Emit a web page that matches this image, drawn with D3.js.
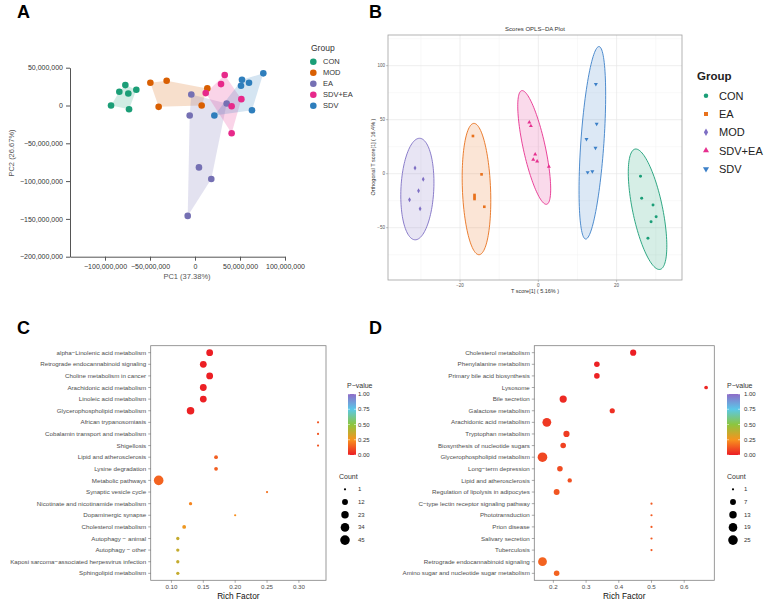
<!DOCTYPE html>
<html>
<head>
<meta charset="utf-8">
<script src="https://cdn.jsdelivr.net/npm/d3@7"></script>
<style>
  body { margin: 0; background: #fff; }
  text { font-family: "Liberation Sans", Arial, sans-serif; }
</style>
</head>
<body>
<svg id="fig" width="768" height="600"></svg>
<script>
// ---------- data: panel A (PCA) ----------
const groupsA = ['CON', 'MOD', 'EA', 'SDV+EA', 'SDV'];
const colorsA = ['#1b9e77', '#d95f02', '#7570b3', '#e7298a', '#2e7ebc'];
const pcaCon   = [[-93.3e6, 0], [-84.1e6, 18.1e6], [-77.4e6, 27.0e6], [-74.1e6, 15.9e6], [-65.2e6, 20.8e6], [-73.3e6, -4.9e6]];
const pcaMod   = [[-49.6e6, 30.1e6], [-31.5e6, 32.7e6], [13.7e6, 22.6e6], [-40.4e6, -1.8e6], [7.4e6, 0]];
const pcaEa    = [[-4.1e6, 14.6e6], [-5.9e6, -13.3e6], [4.4e6, -81.9e6], [18.1e6, -97.3e6], [-8.1e6, -146e6], [35.2e6, 2.7e6]];
const pcaSdvEa = [[33.0e6, 40.3e6], [28.9e6, 28.3e6], [11.9e6, 16.4e6], [40.7e6, -0.9e6], [51.5e6, 8.4e6], [40.7e6, -36.7e6]];
const pcaSdv   = [[75.9e6, 42.5e6], [52.2e6, 34.1e6], [60.0e6, 30.1e6], [51.1e6, 26.1e6], [21.5e6, -13.3e6], [63.3e6, -6.2e6]];
const pcaXTicks = [-100e6, -50e6, 0, 50e6, 100e6];
const pcaYTicks = [-200e6, -150e6, -100e6, -50e6, 0, 50e6];

// ---------- data: panel B (OPLS-DA) ----------
const groupsB = ['CON', 'EA', 'MOD', 'SDV+EA', 'SDV'];
const colorsB = ['#1b9e77', '#e8711c', '#7e6fc4', '#e6308f', '#3c80c8'];
const oplsCon   = [[26.1, -2.4], [26.4, -22.8], [29.3, -29], [30.1, -39.8], [28.8, -44.4], [28.0, -59.8]];
const oplsEa    = [[-16.7, 34.9], [-14.5, -0.6], [-16.3, -19.7], [-16.3, -21.6], [-16.3, -23.4], [-13.8, -30.6]];
const oplsMod   = [[-31.5, 5.3], [-29.4, -5.2], [-30.6, -15.7], [-32.9, -24.1], [-30.2, -32.4]];
const oplsSdvEa = [[-2.3, 47.6], [-1.9, 44.2], [-0.8, 18], [-1.3, 13], [-0.3, 11.5], [2.7, 6.5]];
const oplsSdv   = [[14.7, 82.8], [14.9, 46], [12.3, 31.9], [14.6, 23.8], [12.6, 1.3], [13.8, 2.2]];
// confidence ellipses: centre, semi-major and semi-minor vectors (data units)
const ellCenter = [[27.9, -32.9], [-15.8, -14.2], [-30.9, -14.2], [-1.05, 24.3], [13.8, 28.6]];
const ellMajor  = [[-3.19, 55.7], [-0.64, 60.8], [0.55, 47.0], [-3.19, 52.6], [1.71, 89.1]];
const ellMinor  = [[3.75, 2.8], [3.6, 0], [4.2, 0], [2.74, 2.2], [2.94, -0.74]];
const oplsXTicks = [-20, 0, 20];
const oplsXMinor = [-30, -10, 10, 30];
const oplsYTicks = [-50, 0, 50, 100];
const oplsYMinor = [-75, -25, 25, 75, 125];

// ---------- data: panel C (enrichment) ----------
const termsC = ['alpha\u2212Linolenic acid metabolism', 'Retrograde endocannabinoid signaling', 'Choline metabolism in cancer',
  'Arachidonic acid metabolism', 'Linoleic acid metabolism', 'Glycerophospholipid metabolism', 'African trypanosomiasis',
  'Cobalamin transport and metabolism', 'Shigellosis', 'Lipid and atherosclerosis', 'Lysine degradation', 'Metabolic pathways',
  'Synaptic vesicle cycle', 'Nicotinate and nicotinamide metabolism', 'Dopaminergic synapse', 'Cholesterol metabolism',
  'Autophagy \u2212 animal', 'Autophagy \u2212 other', 'Kaposi sarcoma\u2212associated herpesvirus infection', 'Sphingolipid metabolism'];
const richC  = [0.16, 0.15, 0.16, 0.15, 0.15, 0.13, 0.33, 0.33, 0.33, 0.17, 0.17, 0.08, 0.25, 0.13, 0.20, 0.12, 0.11, 0.11, 0.11, 0.11];
const countC = [18, 18, 18, 18, 18, 24, 1, 1, 1, 3, 3, 45, 1, 2, 1, 3, 2, 2, 2, 2];
const pvalC  = [0.005, 0.006, 0.007, 0.008, 0.009, 0.01, 0.12, 0.12, 0.12, 0.14, 0.14, 0.15, 0.18, 0.22, 0.24, 0.27, 0.37, 0.37, 0.37, 0.37];
const countBreaksC = [1, 12, 23, 34, 45];
const richTicksC = [0.10, 0.15, 0.20, 0.25, 0.30];

// ---------- data: panel D (enrichment) ----------
const termsD = ['Cholesterol metabolism', 'Phenylalanine metabolism', 'Primary bile acid biosynthesis', 'Lysosome', 'Bile secretion',
  'Galactose metabolism', 'Arachidonic acid metabolism', 'Tryptophan metabolism', 'Biosynthesis of nucleotide sugars',
  'Glycerophospholipid metabolism', 'Long\u2212term depression', 'Lipid and atherosclerosis', 'Regulation of lipolysis in adipocytes',
  'C\u2212type lectin receptor signaling pathway', 'Phototransduction', 'Prion disease', 'Salivary secretion', 'Tuberculosis',
  'Retrograde endocannabinoid signaling', 'Amino sugar and nucleotide sugar metabolism'];
const richD  = [0.444, 0.333, 0.333, 0.667, 0.23, 0.38, 0.18, 0.24, 0.23, 0.1667, 0.22, 0.25, 0.21, 0.5, 0.5, 0.5, 0.5, 0.5, 0.1667, 0.21];
const countD = [8, 6, 6, 2, 12, 5, 20, 8, 6, 25, 6, 3, 7, 1, 1, 1, 1, 1, 20, 6];
const pvalD  = [0.005, 0.01, 0.012, 0.02, 0.03, 0.04, 0.06, 0.065, 0.08, 0.09, 0.1, 0.11, 0.12, 0.13, 0.13, 0.13, 0.13, 0.13, 0.15, 0.15];
const countBreaksD = [1, 7, 13, 19, 25];
const richTicksD = [0.2, 0.3, 0.4, 0.5, 0.6];

const pBreaks = [0, 0.25, 0.5, 0.75, 1];
const pColors = ['#ec1c24', '#f7931e', '#8cc63f', '#5ac8e8', '#8e6cc8'];

const svg = d3.select('#fig');
const FONT = '"Liberation Sans", Arial, sans-serif';

function panelLetter(txt, x, y) {
    svg.append('text').attr('x', x).attr('y', y).attr('font-size', 18).attr('font-weight', 'bold').text(txt);
}

// =================== Panel A ===================
panelLetter('A', 17, 18);
const xA = d3.scaleLinear().domain([-138.9e6, 100e6]).range([70, 285]);
const yA = d3.scaleLinear().domain([-200e6, 50e6]).range([256.7, 67.7]);
const fmtA = d3.format(',');

const axA = svg.append('g').attr('transform', 'translate(0,256.7)')
    .call(d3.axisBottom(xA).tickValues(pcaXTicks).tickFormat(fmtA).tickSize(4).tickSizeOuter(0));
const ayA = svg.append('g').attr('transform', 'translate(70,0)')
    .call(d3.axisLeft(yA).tickValues(pcaYTicks).tickFormat(fmtA).tickSize(4).tickSizeOuter(0));
[axA, ayA].forEach(a => {
    a.attr('font-family', FONT).attr('font-size', 7);
    a.selectAll('path, line').attr('stroke', '#555');
    a.selectAll('text').attr('fill', '#333');
});

const pcaSets = [pcaCon, pcaMod, pcaEa, pcaSdvEa, pcaSdv];
// convex hulls
pcaSets.forEach((pts, i) => {
    const hull = d3.polygonHull(pts.map(p => [xA(p[0]), yA(p[1])]));
    svg.append('path')
        .attr('d', 'M' + hull.join('L') + 'Z')
        .attr('fill', colorsA[i])
        .attr('fill-opacity', 0.2);
});
pcaSets.forEach((pts, i) => {
    svg.append('g').selectAll('circle').data(pts).join('circle')
        .attr('cx', d => xA(d[0]))
        .attr('cy', d => yA(d[1]))
        .attr('r', 3.3)
        .attr('fill', colorsA[i]);
});

svg.append('text').attr('x', 187).attr('y', 279).attr('text-anchor', 'middle')
    .attr('font-size', 7.5).attr('fill', '#555').text('PC1 (37.38%)');
svg.append('text').attr('transform', 'translate(14,153) rotate(-90)').attr('text-anchor', 'middle')
    .attr('font-size', 7.5).attr('fill', '#555').text('PC2 (26.67%)');

// legend A
svg.append('text').attr('x', 311).attr('y', 51).attr('font-size', 8.5).attr('fill', '#333').text('Group');
groupsA.forEach((g, i) => {
    const yy = 61.7 + 11 * i;
    svg.append('circle').attr('cx', 313.3).attr('cy', yy).attr('r', 3.3).attr('fill', colorsA[i]);
    svg.append('text').attr('x', 323).attr('y', yy + 2.7).attr('font-size', 7.5).attr('fill', '#333').text(g);
});

// =================== Panel B ===================
panelLetter('B', 369, 18);
const xB = d3.scaleLinear().domain([-38.4, 36.7]).range([388, 682]);
const yB = d3.scaleLinear().domain([-98.4, 128.4]).range([280, 35]);
const gB = svg.append('g');

// grid
gB.selectAll('.vmin').data(oplsXMinor).join('line')
    .attr('x1', d => xB(d)).attr('x2', d => xB(d)).attr('y1', 35).attr('y2', 280)
    .attr('stroke', '#f2f2f2').attr('stroke-width', 0.5);
gB.selectAll('.hmin').data(oplsYMinor).join('line')
    .attr('y1', d => yB(d)).attr('y2', d => yB(d)).attr('x1', 388).attr('x2', 682)
    .attr('stroke', '#f2f2f2').attr('stroke-width', 0.5);
gB.selectAll('.vmaj').data(oplsXTicks).join('line')
    .attr('x1', d => xB(d)).attr('x2', d => xB(d)).attr('y1', 35).attr('y2', 280)
    .attr('stroke', '#e6e6e6').attr('stroke-width', 0.7);
gB.selectAll('.hmaj').data(oplsYTicks).join('line')
    .attr('y1', d => yB(d)).attr('y2', d => yB(d)).attr('x1', 388).attr('x2', 682)
    .attr('stroke', '#e6e6e6').attr('stroke-width', 0.7);

// ellipses
const tSteps = d3.range(0, 2 * Math.PI + 0.001, Math.PI / 60);
groupsB.forEach((g, i) => {
    const c = ellCenter[i], a = ellMajor[i], b = ellMinor[i];
    const pts = tSteps.map(t => [
        xB(c[0] + Math.cos(t) * a[0] + Math.sin(t) * b[0]),
        yB(c[1] + Math.cos(t) * a[1] + Math.sin(t) * b[1])
    ]);
    gB.append('path')
        .attr('d', d3.line().curve(d3.curveLinearClosed)(pts))
        .attr('fill', colorsB[i]).attr('fill-opacity', 0.18)
        .attr('stroke', colorsB[i]).attr('stroke-width', 0.9);
});

const symTypes = [d3.symbolCircle, d3.symbolSquare, d3.symbolDiamond, d3.symbolTriangle, d3.symbolTriangle];
const symRot = [0, 0, 0, 0, 180];
const oplsSets = [oplsCon, oplsEa, oplsMod, oplsSdvEa, oplsSdv];
oplsSets.forEach((pts, i) => {
    gB.append('g').selectAll('path').data(pts).join('path')
        .attr('d', d3.symbol().type(symTypes[i]).size(7))
        .attr('transform', d => `translate(${xB(d[0])},${yB(d[1])}) rotate(${symRot[i]})`)
        .attr('fill', colorsB[i]);
});

gB.append('rect').attr('x', 388).attr('y', 35).attr('width', 294).attr('height', 245)
    .attr('fill', 'none').attr('stroke', '#a0a0a0').attr('stroke-width', 0.8);

// ticks B
oplsXTicks.forEach(v => {
    gB.append('line').attr('x1', xB(v)).attr('x2', xB(v)).attr('y1', 280).attr('y2', 282).attr('stroke', '#888').attr('stroke-width', 0.5);
    gB.append('text').attr('x', xB(v)).attr('y', 286.5).attr('text-anchor', 'middle')
        .attr('font-size', 4.5).attr('fill', '#555').text(v === 0 ? '0' : d3.format('d')(v).replace('-', '\u2212'));
});
oplsYTicks.forEach(v => {
    gB.append('line').attr('x1', 386).attr('x2', 388).attr('y1', yB(v)).attr('y2', yB(v)).attr('stroke', '#888').attr('stroke-width', 0.5);
    gB.append('text').attr('x', 385).attr('y', yB(v) + 1.6).attr('text-anchor', 'end')
        .attr('font-size', 4.5).attr('fill', '#555').text(d3.format('d')(v).replace('-', '\u2212'));
});
gB.append('text').attr('x', 535).attr('y', 31).attr('text-anchor', 'middle')
    .attr('font-size', 6).attr('fill', '#333').text('Scores OPLS\u2212DA Plot');
gB.append('text').attr('x', 535).attr('y', 293).attr('text-anchor', 'middle')
    .attr('font-size', 5.5).attr('fill', '#333').text('T score[1] ( 5.16% )');
gB.append('text').attr('transform', 'translate(375,157) rotate(-90)').attr('text-anchor', 'middle')
    .attr('font-size', 5.5).attr('fill', '#333').text('Orthogonal T score[1] ( 16.4% )');

// legend B
gB.append('text').attr('x', 697).attr('y', 80).attr('font-size', 11.5).attr('font-weight', 'bold').attr('fill', '#222').text('Group');
groupsB.forEach((g, i) => {
    const yy = 95.7 + 18.3 * i;
    gB.append('path')
        .attr('d', d3.symbol().type(symTypes[i]).size(16))
        .attr('transform', `translate(706,${yy}) rotate(${symRot[i]})`)
        .attr('fill', colorsB[i]);
    gB.append('text').attr('x', 719).attr('y', yy + 4).attr('font-size', 11).attr('fill', '#222').text(g);
});

// =================== Panels C and D ===================
const pColor = d3.scaleLinear().domain(pBreaks).range(pColors);

const defs = svg.append('defs');
const grad = defs.append('linearGradient').attr('id', 'pgrad')
    .attr('x1', 0).attr('y1', 1).attr('x2', 0).attr('y2', 0);
pBreaks.forEach((b, i) => grad.append('stop').attr('offset', b).attr('stop-color', pColors[i]));

function enrichPanel(terms, rich, counts, pvals, countBreaks, ticks, tickFmt, box, leg) {
    const g = svg.append('g');
    const ext = d3.extent(rich);
    const pad = (ext[1] - ext[0]) * 0.05;
    const x = d3.scaleLinear().domain([ext[0] - pad, ext[1] + pad]).range([box.l, box.r]);
    const y = d3.scalePoint().domain(terms).range([box.t, box.b]).padding(0.6);
    const cExt = d3.extent(countBreaks);
    const rLin = d3.scaleLinear().domain([0, 1]).range([1.1, 4.8]);
    const r = c => rLin(Math.sqrt((c - cExt[0]) / (cExt[1] - cExt[0])));

    g.append('rect').attr('x', box.l).attr('y', box.t).attr('width', box.r - box.l).attr('height', box.b - box.t)
        .attr('fill', 'none').attr('stroke', '#808080').attr('stroke-width', 0.8);

    terms.forEach(t => {
        g.append('line').attr('x1', box.l - 2.5).attr('x2', box.l).attr('y1', y(t)).attr('y2', y(t))
            .attr('stroke', '#555').attr('stroke-width', 0.5);
        g.append('text').attr('x', box.l - 4.5).attr('y', y(t) + 2.1).attr('text-anchor', 'end')
            .attr('font-size', 6.2).attr('fill', '#4d4d4d').text(t);
    });
    ticks.forEach(v => {
        g.append('line').attr('x1', x(v)).attr('x2', x(v)).attr('y1', box.b).attr('y2', box.b + 2.5)
            .attr('stroke', '#555').attr('stroke-width', 0.5);
        g.append('text').attr('x', x(v)).attr('y', box.b + 9).attr('text-anchor', 'middle')
            .attr('font-size', 6.2).attr('fill', '#4d4d4d').text(tickFmt(v));
    });
    g.append('text').attr('x', (box.l + box.r) / 2).attr('y', 598.5).attr('text-anchor', 'middle')
        .attr('font-size', 8.3).attr('fill', '#111').text('Rich Factor');

    g.selectAll('circle.pt').data(terms).join('circle')
        .attr('cx', (d, i) => x(rich[i]))
        .attr('cy', d => y(d))
        .attr('r', (d, i) => r(counts[i]))
        .attr('fill', (d, i) => pColor(pvals[i]));

    // legend: P-value colour bar
    const yBar = d3.scaleLinear().domain([0, 1]).range([455, 394]);
    g.append('text').attr('x', leg.tx).attr('y', 387.5).attr('font-size', 7).attr('fill', '#333').text('P\u2212value');
    g.append('rect').attr('x', leg.bx).attr('y', 394).attr('width', leg.bw).attr('height', 61).attr('fill', 'url(#pgrad)');
    pBreaks.forEach(b => {
        g.append('line').attr('x1', leg.bx).attr('x2', leg.bx + 2).attr('y1', yBar(b)).attr('y2', yBar(b)).attr('stroke', '#fff').attr('stroke-width', 0.5);
        g.append('line').attr('x1', leg.bx + leg.bw - 2).attr('x2', leg.bx + leg.bw).attr('y1', yBar(b)).attr('y2', yBar(b)).attr('stroke', '#fff').attr('stroke-width', 0.5);
        g.append('text').attr('x', leg.lx).attr('y', yBar(b) + 2).attr('font-size', 6).attr('fill', '#333').text(d3.format('.2f')(b));
    });
    // legend: Count
    g.append('text').attr('x', leg.cx).attr('y', 478.5).attr('font-size', 7).attr('fill', '#333').text('Count');
    countBreaks.forEach((c, i) => {
        const yy = 489.3 + 12.7 * i;
        g.append('circle').attr('cx', leg.dx).attr('cy', yy).attr('r', r(c)).attr('fill', '#000');
        g.append('text').attr('x', leg.lx).attr('y', yy + 2).attr('font-size', 6).attr('fill', '#333').text(c);
    });
}

panelLetter('C', 17, 334);
enrichPanel(termsC, richC, countC, pvalC, countBreaksC, richTicksC, d3.format('.2f'),
    { l: 150.7, r: 326, t: 345.7, b: 580.3 },
    { tx: 347, bx: 348, bw: 8, lx: 358, cx: 339, dx: 345 });

panelLetter('D', 369, 334);
enrichPanel(termsD, richD, countD, pvalD, countBreaksD, richTicksD, d3.format('.1f'),
    { l: 534.3, r: 714.3, t: 345.7, b: 580.3 },
    { tx: 727, bx: 727, bw: 13, lx: 744, cx: 727, dx: 733 });
</script>
</body>
</html>
